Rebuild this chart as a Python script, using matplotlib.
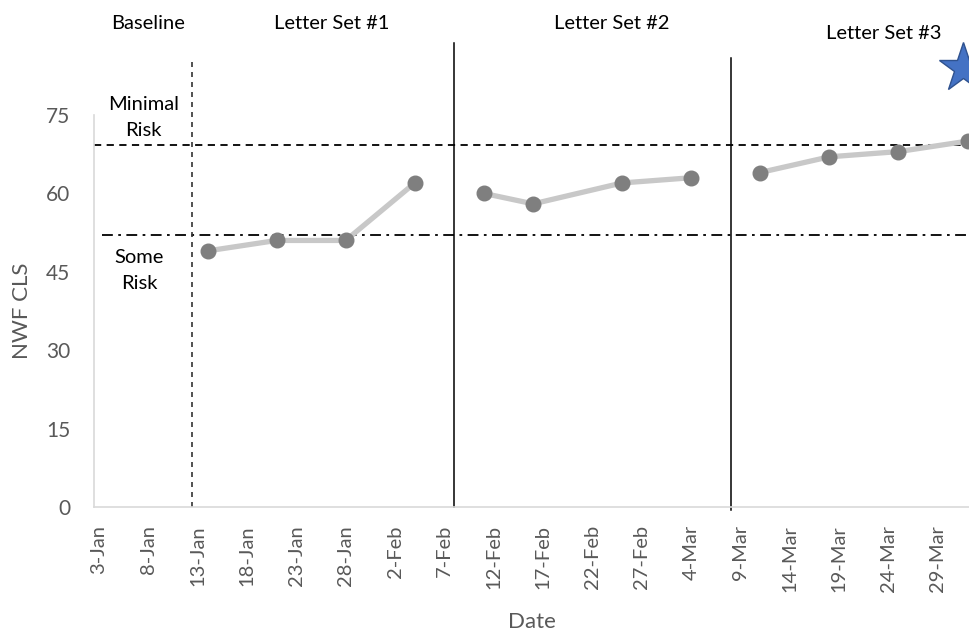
import matplotlib
matplotlib.use("Agg")
import matplotlib.pyplot as plt
import matplotlib.dates as mdates
import pandas as pd

plt.rcParams['font.family'] = ['Lato', 'DejaVu Sans']

# ---- data ----
set1_dates = ["2019-01-14", "2019-01-21", "2019-01-28", "2019-02-04"]
set1_vals = [49, 51, 51, 62]
set2_dates = ["2019-02-11", "2019-02-16", "2019-02-25", "2019-03-04"]
set2_vals = [60, 58, 62, 63]
set3_dates = ["2019-03-11", "2019-03-18", "2019-03-25", "2019-04-01"]
set3_vals = [64, 67, 68, 70]

minimal_risk = 69.3
some_risk = 52
phase_dashed = "2019-01-12 10:00"
phase_solid = ["2019-02-08 00:00", "2019-03-08 00:00"]
star_date = "2019-03-31 12:00"
star_val = 84

tick_start = "2019-01-03"
tick_end = "2019-03-29"
yticks = [0, 15, 30, 45, 60, 75]

def d(s):
    return pd.Timestamp(s)

fig = plt.figure(figsize=(9.7, 6.34), dpi=100)
ax = fig.add_axes([0.0969, 0.2003, 0.9031, 0.6183])

gray_line = "#c8c8c8"
gray_mark = "#7f7f7f"
for ds, vs in [(set1_dates, set1_vals), (set2_dates, set2_vals), (set3_dates, set3_vals)]:
    x = [d(s) for s in ds]
    ax.plot(x, vs, color=gray_line, lw=3.8, solid_capstyle='round', zorder=3, clip_on=False)
    ax.plot(x, vs, ls='none', marker='o', ms=10.5, color=gray_mark, zorder=4, clip_on=False)

xmin = d(tick_start) - pd.Timedelta(hours=12)
xmax = d("2019-04-01") + pd.Timedelta(hours=6)
ax.set_xlim(xmin, xmax)
ax.set_ylim(0, 75)

# reference lines
ax.axhline(minimal_risk, xmin=0, xmax=1, color='black', ls=(0, (4, 3)), lw=1.3, zorder=2, clip_on=False)
ax.plot([d("2019-01-03 08:00"), xmax], [some_risk, some_risk], color='black',
        ls=(0, (6, 3, 1.5, 3)), lw=1.3, zorder=2, clip_on=False)
ax.plot([d(phase_dashed)] * 2, [0, 86], color='#333333', ls=(0, (3, 3)), lw=1.2, zorder=2, clip_on=False)
ax.plot([d(phase_solid[0])] * 2, [0, 88.7], color='black', lw=1.1, zorder=2, clip_on=False)
ax.plot([d(phase_solid[1])] * 2, [-0.6, 86], color='black', lw=1.1, zorder=2, clip_on=False)

# star
ax.plot([d(star_date)], [star_val], marker='*', ms=37, mfc='#4472c4', mec='#2f528f',
        mew=1.0, clip_on=False, zorder=5)

# texts
tk = dict(ha='center', va='center', fontsize=14.5, color='black', clip_on=False)
ax.text(d("2019-01-08"), 92.6, "Baseline", **tk)
ax.text(d("2019-01-26 14:00"), 92.6, "Letter Set #1", **tk)
ax.text(d("2019-02-24"), 92.6, "Letter Set #2", **tk)
ax.text(d("2019-03-23 12:00"), 90.5, "Letter Set #3", **tk)
ax.text(d("2019-01-07 12:00"), 74.6, "Minimal\nRisk", linespacing=1.65, **tk)
ax.text(d("2019-01-07 02:00"), 45.2, "Some\nRisk", linespacing=1.65, **tk)

# axes styling
ticks = pd.date_range(tick_start, tick_end, freq='5D')
ax.set_xticks(ticks)
ax.xaxis.set_major_formatter(mdates.DateFormatter('%-d-%b'))
ax.set_yticks(yticks)
ax.tick_params(axis='x', length=0, pad=13, labelsize=14.5, labelcolor='#595959', rotation=90)
ax.tick_params(axis='y', length=0, pad=17, labelsize=15, labelcolor='#595959')
for s in ['top', 'right']:
    ax.spines[s].set_visible(False)
for s in ['left', 'bottom']:
    ax.spines[s].set_color('#d9d9d9')
    ax.spines[s].set_linewidth(1.2)

ax.set_ylabel("NWF CLS", fontsize=16, color='#595959', labelpad=10)
ax.set_xlabel("Date", fontsize=16, color='#595959', labelpad=14)

fig.savefig("out.png", dpi=100)
